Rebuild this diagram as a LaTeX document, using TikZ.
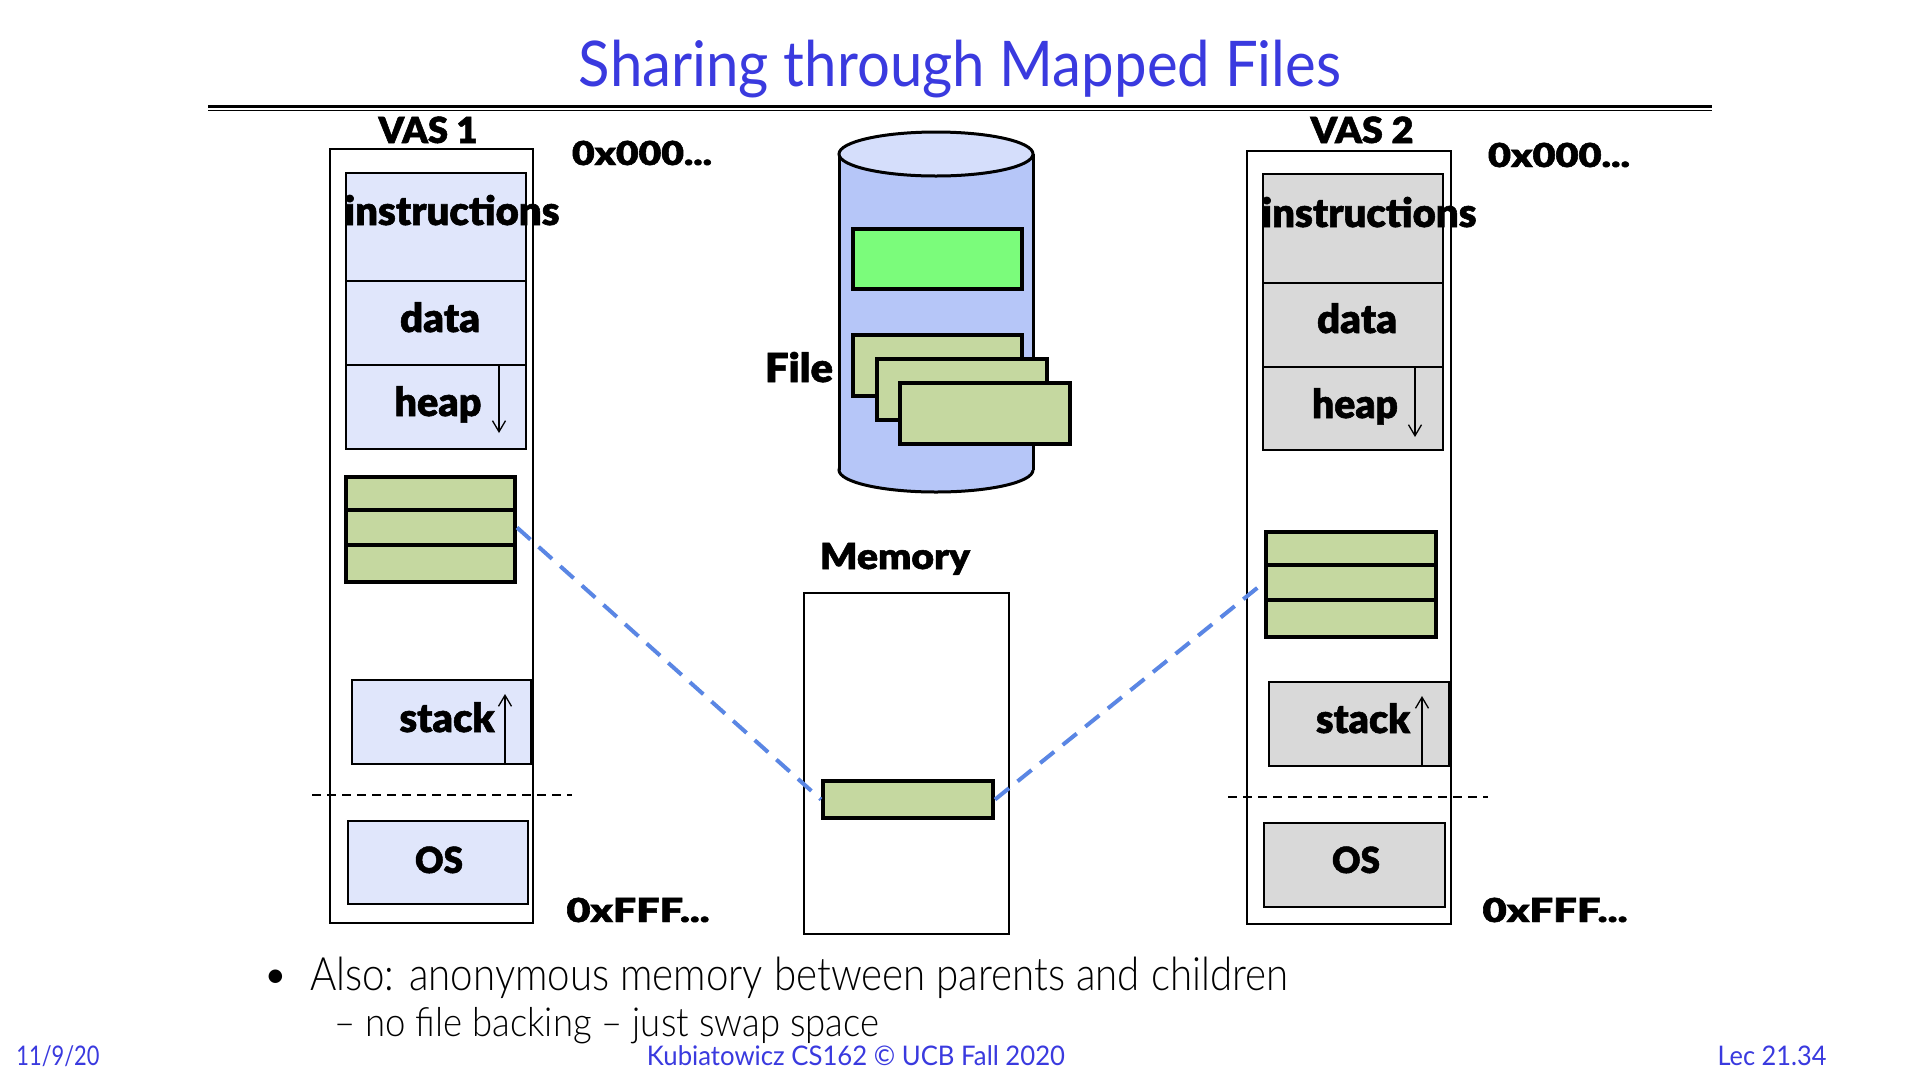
\documentclass[tikz,border=0pt]{standalone}
\usepackage{fontspec}
\usepackage{graphicx}
\setmainfont{Lato}
\newfontfamily\heavy{Lato Black}[FakeBold=1.4]
\newfontfamily\light{Lato Light}
\usetikzlibrary{arrows.meta}
\definecolor{titleblue}{HTML}{3A3ADF}
\definecolor{boxblue}{HTML}{E0E6FB}
\definecolor{boxgray}{HTML}{D9D9D9}
\definecolor{olive}{HTML}{C5D8A0}
\definecolor{brightgreen}{HTML}{7BFC7B}
\definecolor{cylside}{HTML}{B6C6F8}
\definecolor{cyltop}{HTML}{D5DEFB}
\definecolor{dashblue}{HTML}{5A86E4}
\newcommand\fw[2]{\resizebox{#1pt}{\height}{#2}}
\begin{document}
\begin{tikzpicture}[x=1pt,y=-1pt,
  lblword/.style={font=\heavy\fontsize{40}{40}\selectfont, inner sep=0, anchor=base},
  lblcap/.style={font=\heavy\fontsize{36}{36}\selectfont, inner sep=0, anchor=base},
  lblhex/.style={font=\heavy\fontsize{33}{33}\selectfont, inner sep=0, anchor=base},
  segbox/.style={draw=black, line width=2pt, inner sep=0, anchor=north west},
  vasframe/.style={draw=black, line width=2pt, inner sep=0, anchor=north west, fill=white},
  pagebox/.style={draw=black, line width=4pt, inner sep=0, anchor=north west, fill=olive},
  filebox/.style={draw=black, line width=3.5pt, inner sep=0, anchor=north west},
  growarrow/.style={line width=1.3pt, -{Straight Barb[length=11pt,width=13pt]}},
  splitline/.style={draw=black, line width=1.6pt, dash pattern=on 9pt off 6pt},
  sharelink/.style={draw=dashblue, line width=4pt, dash pattern=on 18pt off 11pt},
  bodytext/.style={font=\light\fontsize{46}{46}\selectfont, inner sep=0, anchor=base west},
  foottext/.style={font=\fontsize{27}{27}\selectfont, text=titleblue, inner sep=0, anchor=base}]
\useasboundingbox (0,0) rectangle (1920,1080);
\fill[white] (0,0) rectangle (1920,1080);

% title and rules
\node[font=\fontsize{63}{63}\selectfont, text=titleblue, inner sep=0, anchor=base] (title) at (960,86) {\fw{762}{Sharing through Mapped Files}};
\coordinate (r1a) at (208,106.5); \coordinate (r1b) at (1712,106.5);
\coordinate (r2a) at (208,110.5); \coordinate (r2b) at (1712,110.5);
\draw[line width=2.6pt] (r1a) -- (r1b);
\draw[line width=1.4pt] (r2a) -- (r2b);

% ---------- VAS 1 ----------
\node[vasframe, minimum width=203pt, minimum height=774pt] (vas1) at (329,148) {};
\node[segbox, fill=boxblue, minimum width=180pt, minimum height=108pt] (ins1) at (345,172) {};
\node[segbox, fill=boxblue, minimum width=180pt, minimum height=84pt] (dat1) at (345,280) {};
\node[segbox, fill=boxblue, minimum width=180pt, minimum height=84pt] (hp1) at (345,364) {};
\node[pagebox, minimum width=169pt, minimum height=33pt] (g1a) at (344,475) {};
\node[pagebox, minimum width=169pt, minimum height=35pt] (g1b) at (344,508) {};
\node[pagebox, minimum width=169pt, minimum height=37pt] (g1c) at (344,543) {};
\node[segbox, fill=boxblue, minimum width=179pt, minimum height=84pt] (stk1) at (351,679) {};
\node[segbox, fill=boxblue, minimum width=180pt, minimum height=83pt] (os1) at (347,820) {};
\draw[growarrow] (hp1.north east) ++(-28,1) -- ++(0,68);
\draw[growarrow] (stk1.south east) ++(-27,0) -- ++(0,-71);
\coordinate (d1a) at (312,795); \coordinate (d1b) at (572,795);
\draw[splitline] (d1a) -- (d1b);
\node[lblcap] (t-vas1) at (428,143) {\fw{99}{VAS 1}};
\node[lblword] (t-ins1) at (452,225) {\fw{215}{instructions}};
\node[lblword] (t-dat1) at (440,332) {\fw{80}{data}};
\node[lblword] (t-hp1) at (438,416) {\fw{87}{heap}};
\node[lblword] (t-stk1) at (447,732) {\fw{95}{stack}};
\node[lblcap] (t-os1) at (439,873) {\fw{48}{OS}};
\node[lblhex] (t-lo1) at (642,165) {\fw{140}{0x000...}};
\node[lblhex] (t-hi1) at (638,922) {\fw{143}{0xFFF...}};

% ---------- VAS 2 ----------
\node[vasframe, minimum width=204pt, minimum height=773pt] (vas2) at (1246,150) {};
\node[segbox, fill=boxgray, minimum width=180pt, minimum height=109pt] (ins2) at (1262,173) {};
\node[segbox, fill=boxgray, minimum width=180pt, minimum height=84pt] (dat2) at (1262,282) {};
\node[segbox, fill=boxgray, minimum width=180pt, minimum height=83pt] (hp2) at (1262,366) {};
\node[pagebox, minimum width=170pt, minimum height=33pt] (g2a) at (1264,530) {};
\node[pagebox, minimum width=170pt, minimum height=35pt] (g2b) at (1264,563) {};
\node[pagebox, minimum width=170pt, minimum height=37pt] (g2c) at (1264,598) {};
\node[segbox, fill=boxgray, minimum width=180pt, minimum height=84pt] (stk2) at (1268,681) {};
\node[segbox, fill=boxgray, minimum width=181pt, minimum height=84pt] (os2) at (1263,822) {};
\draw[growarrow] (hp2.north east) ++(-29,1) -- ++(0,70);
\draw[growarrow] (stk2.south east) ++(-28,0) -- ++(0,-71);
\coordinate (d2a) at (1228,797); \coordinate (d2b) at (1488,797);
\draw[splitline] (d2a) -- (d2b);
\node[lblcap] (t-vas2) at (1362,143) {\fw{103}{VAS 2}};
\node[lblword] (t-ins2) at (1369,227) {\fw{215}{instructions}};
\node[lblword] (t-dat2) at (1357,333) {\fw{80}{data}};
\node[lblword] (t-hp2) at (1355,418) {\fw{86}{heap}};
\node[lblword] (t-stk2) at (1363,733) {\fw{94}{stack}};
\node[lblcap] (t-os2) at (1356,873) {\fw{48}{OS}};
\node[lblhex] (t-lo2) at (1559,167) {\fw{142}{0x000...}};
\node[lblhex] (t-hi2) at (1555,922) {\fw{145}{0xFFF...}};

% ---------- File (cylinder) ----------
\filldraw[fill=cylside, draw=black, line width=3pt] (936,470) ellipse [x radius=97pt, y radius=22pt];
\fill[cylside] (839,154) rectangle (1033,470);
\coordinate (cl1) at (839,154); \coordinate (cl2) at (839,470);
\coordinate (cr1) at (1033,154); \coordinate (cr2) at (1033,470);
\draw[line width=3pt] (cl1) -- (cl2);
\draw[line width=3pt] (cr1) -- (cr2);
\filldraw[fill=cyltop, draw=black, line width=3pt] (936,154) ellipse [x radius=97pt, y radius=22pt];
\node[filebox, fill=brightgreen, minimum width=169pt, minimum height=60pt] (fg) at (851,227) {};
\node[filebox, fill=olive, minimum width=169pt, minimum height=61pt] (f1) at (851,333) {};
\node[filebox, fill=olive, minimum width=170pt, minimum height=61pt] (f2) at (875,357) {};
\node[filebox, fill=olive, minimum width=170pt, minimum height=61pt] (f3) at (898,381) {};
\node[lblword] (t-file) at (799,382) {\fw{68}{File}};

% ---------- Memory ----------
\node[vasframe, minimum width=205pt, minimum height=341pt] (mem) at (803,592) {};
\node[pagebox, minimum width=170pt, minimum height=37pt] (memg) at (821,779) {};
\node[lblcap] (t-mem) at (895,569) {\fw{150}{Memory}};

% ---------- sharing links ----------
\draw[sharelink] (g1b.east) -- (memg.west);
\draw[sharelink] (memg.east) -- (g2b.west);

% ---------- text ----------
\node[font=\light\fontsize{46}{46}\selectfont, inner sep=0, anchor=base] (bul) at (276,990) {•};
\node[bodytext] (t-also) at (310,990) {\fw{978}{Also: anonymous memory between parents and children}};
\node[font=\light\fontsize{40}{40}\selectfont, inner sep=0, anchor=base west] (t-sub) at (334,1036) {\fw{545}{– no file backing – just swap space}};
\node[foottext] (t-date) at (58,1065) {\fw{83}{11/9/20}};
\node[foottext] (t-course) at (856,1065) {\fw{418}{Kubiatowicz CS162 © UCB Fall 2020}};
\node[foottext] (t-lec) at (1772,1065) {\fw{109}{Lec 21.34}};
\end{tikzpicture}
\end{document}
